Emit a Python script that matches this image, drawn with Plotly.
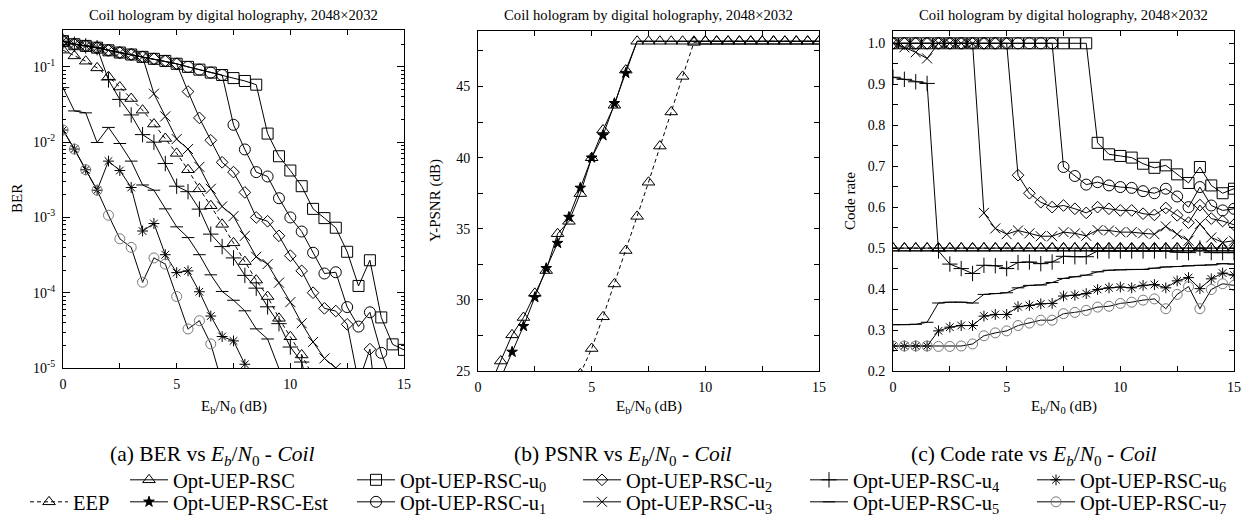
import plotly.graph_objects as go

W, H = 1249, 517
FONT = "'Liberation Serif', 'Times New Roman', Times, serif"

ebn0 = [0, 0.5, 1, 1.5, 2, 2.5, 3, 3.5, 4, 4.5, 5, 5.5, 6, 6.5, 7, 7.5, 8, 8.5, 9, 9.5,
        10, 10.5, 11, 11.5, 12, 12.5, 13, 13.5, 14, 14.5, 15]
N = None

# ---------------- (a) BER ----------------
ber_eep = [0.167, 0.14, 0.119, 0.097, 0.074, 0.054, 0.038, 0.0266, 0.0174, 0.0112, 0.0071, 0.0043,
           0.0024, 0.00143, 0.00081, 0.00046, 0.000259, 0.000147, 0.000089, 0.0000457, 0.000026,
           0.0000149, 0.0000077, N, N, N, N, N, N, N, N]
ber_u0 = [0.22, 0.20, 0.19, 0.18, 0.166, 0.155, 0.146, 0.136, 0.128, 0.12, 0.11, 0.10, 0.092, 0.084,
          0.078, 0.071, 0.065, 0.058, 0.013, 0.0065, 0.0042, 0.0026, 0.0013, 0.00098, 0.00073,
          0.00035, 0.000123, 0.00027, 0.000047, 0.0000206, 0.0000174]
ber_u1 = [0.22, 0.20, 0.19, 0.18, 0.166, 0.155, 0.146, 0.136, 0.128, 0.12, 0.11, 0.10, 0.092, 0.084,
          0.078, 0.017, 0.008, 0.004, 0.0035, 0.0018, 0.001, 0.00065, 0.00034, 0.00018, 0.000187,
          0.0000645, 0.0000355, 0.000055, 0.0000159, 0.000006, N]
ber_u2 = [0.22, 0.20, 0.19, 0.18, 0.166, 0.155, 0.146, 0.136, 0.128, 0.12, 0.11, 0.047, 0.021, 0.0106,
          0.0054, 0.004, 0.00215, 0.001, 0.00089, 0.00057, 0.00031, 0.000195, 0.0001, 0.000062,
          0.000057, 0.000038, 0.0000065, 0.0000178, 0.000001, N, N]
ber_u3 = [0.22, 0.20, 0.19, 0.18, 0.166, 0.155, 0.146, 0.136, 0.044, 0.022, 0.011, 0.0081, 0.0047,
          0.0024, 0.0014, 0.00104, 0.00057, 0.0003, 0.00024, 0.000136, 0.000075, 0.0000393,
          0.0000222, 0.0000134, 0.00001, N, N, N, N, N, N]
ber_u4 = [0.22, 0.20, 0.19, 0.18, 0.067, 0.037, 0.023, 0.0126, 0.01, 0.0052, 0.0026, 0.0022, 0.00129,
          0.0006, 0.00041, 0.00029, 0.00017, 0.000115, 0.000065, 0.0000388, 0.000019, 0.000012,
          0.000003, N, N, N, N, N, N, N, N]
ber_u5 = [0.053, 0.026, 0.0245, 0.0099, 0.0157, 0.0096, 0.0056, 0.0027, 0.0023, 0.0013, 0.00075,
          0.00054, 0.00032, 0.000173, 0.000104, 0.0000794, 0.0000575, 0.0000331, 0.0000243,
          0.0000098, N, N, N, N, N, N, N, N, N, N, N]
ber_u6 = [0.0145, 0.0081, 0.0043, 0.0023, 0.0056, 0.0042, 0.0025, 0.00066, 0.00083, 0.00032,
          0.000185, 0.000195, 0.000103, 0.000049, 0.0000262, 0.0000229, 0.0000112, N, N, N, N, N,
          N, N, N, N, N, N, N, N, N]
ber_u7 = [0.0145, 0.0081, 0.0043, 0.0023, 0.00107, 0.00052, 0.0004, 0.000138, 0.00029, 0.00024,
          0.000089, 0.000033, 0.0000425, 0.0000209, 0.0000063, N, N, N, N, N, N, N, N, N, N, N,
          N, N, N, N, N]

# ---------------- (b) Y-PSNR ----------------
psnr_opt = [N, 23.9, 25.7, 27.54, 28.76, 30.46, 32.06, 34.65, 35.52, 37.47, 39.99, 41.94, 43.68,
            46.15, 48.18, 48.18, 48.18, 48.18, 48.18, 48.18, 48.18, 48.18, 48.18, 48.18, 48.18,
            48.18, 48.18, 48.18, 48.18, 48.18, 48.18]
psnr_est = [N, N, 24.5, 26.34, 28.15, 30.18, 32.22, 33.99, 35.82, 37.87, 39.99, 41.56, 43.82,
            45.94, 48.18, 48.18, 48.18, 48.18, 48.18, 48.18, 48.18, 48.18, 48.18, 48.18, 48.18,
            48.18, 48.18, 48.18, 48.18, 48.18, 48.18]
psnr_eep = [N, N, N, N, N, N, N, N, N, 24.8, 26.58, 28.81, 31.12, 33.47, 35.87, 38.27, 40.81,
            43.21, 45.71, 48.1, 48.18, 48.18, 48.18, 48.18, 48.18, 48.18, 48.18, 48.18, 48.18,
            48.18, 48.18]

# ---------------- (c) Code rate ----------------
rate_opt = [0.5] * 31
rate_eep = [0.5] * 31
rate_u0 = [1.0, 1.0, 1.0, 1.0, 1.0, 1.0, 1.0, 1.0, 1.0, 1.0, 1.0, 1.0, 1.0, 1.0, 1.0, 1.0, 1.0, 1.0,
           0.757, 0.729, 0.725, 0.721, 0.706, 0.696, 0.702, 0.68, 0.659, 0.698, 0.653, 0.634, 0.645]
rate_u1 = [1.0, 1.0, 1.0, 1.0, 1.0, 1.0, 1.0, 1.0, 1.0, 1.0, 1.0, 1.0, 1.0, 1.0, 1.0,
           0.698, 0.676, 0.655, 0.661, 0.653, 0.649, 0.647, 0.639, 0.634, 0.645, 0.626, 0.6,
           0.649, 0.604, 0.592, 0.596]
rate_u2 = [1.0, 1.0, 1.0, 1.0, 1.0, 1.0, 1.0, 1.0, 1.0, 1.0, 1.0,
           0.678, 0.634, 0.612, 0.6, 0.604, 0.596, 0.586, 0.6, 0.596, 0.592, 0.592, 0.584, 0.581,
           0.598, 0.58, 0.562, 0.605, 0.572, 0.566, 0.557]
rate_u3 = [1.0, 0.99, 0.978, 0.963, 1.0, 1.0, 1.0, 1.0,
           0.586, 0.548, 0.534, 0.543, 0.536, 0.529, 0.529, 0.539, 0.536, 0.530, 0.544, 0.543,
           0.539, 0.539, 0.536, 0.534, 0.553, 0.534, 0.518, 0.559, 0.526, 0.514, 0.518]
rate_u4 = [0.917, 0.912, 0.906, 0.902,
           0.493, 0.461, 0.45, 0.438, 0.458, 0.457, 0.45, 0.465, 0.466, 0.462, 0.466, 0.48, 0.479,
           0.479, 0.493, 0.493, 0.493, 0.493, 0.493, 0.493, 0.493, 0.49, 0.489, 0.5, 0.489, 0.489,
           0.489]
rate_u5 = [0.313, 0.313, 0.314, 0.319, 0.366, 0.368, 0.368, 0.366, 0.387, 0.389, 0.391, 0.403,
           0.409, 0.41, 0.416, 0.426, 0.43, 0.434, 0.442, 0.446, 0.447, 0.448, 0.448, 0.451,
           0.454, 0.455, 0.457, 0.458, 0.459, 0.462, 0.461]
rate_u6 = [0.261, 0.261, 0.261, 0.261,
           0.298, 0.307, 0.311, 0.311, 0.334, 0.338, 0.338, 0.357, 0.36, 0.364, 0.365, 0.383,
           0.385, 0.389, 0.399, 0.403, 0.405, 0.403, 0.409, 0.411, 0.403, 0.42, 0.428, 0.401,
           0.425, 0.439, 0.434]
rate_u7 = [0.261, 0.261, 0.261, 0.261,
           0.26, 0.26, 0.261, 0.266, 0.286, 0.293, 0.298, 0.311, 0.317, 0.324, 0.324, 0.34, 0.343,
           0.348, 0.356, 0.358, 0.365, 0.368, 0.373, 0.376, 0.352, 0.387, 0.406, 0.352, 0.399,
           0.413, 0.409]

titles = ["Coil hologram by digital holography, 2048\u00d72032"] * 3
captions = ["(a) BER vs <i>E<sub>b</sub></i>/<i>N</i><sub>0</sub> - <i>Coil</i>",
            "(b) PSNR vs <i>E<sub>b</sub></i>/<i>N</i><sub>0</sub> - <i>Coil</i>",
            "(c) Code rate vs <i>E<sub>b</sub></i>/<i>N</i><sub>0</sub> - <i>Coil</i>"]
y_titles = ["BER", "Y-PSNR (dB)", "Code rate"]
x_title = "E<sub>b</sub>/N<sub>0</sub> (dB)"
ber_tick_vals = [1e-5, 1e-4, 1e-3, 1e-2, 1e-1]
ber_tick_text = ["10<sup>-5</sup>", "10<sup>-4</sup>", "10<sup>-3</sup>", "10<sup>-2</sup>", "10<sup>-1</sup>"]

# ---------------- styles ----------------
GRAY = "#7a7a7a"
STY = {
    "EEP": dict(symbol="triangle-up-open", size=11, color="black", dash="4px,3px"),
    "Opt-UEP-RSC": dict(symbol="triangle-up-open", size=11, color="black", dash="solid"),
    "Opt-UEP-RSC-Est": dict(symbol="star", size=8, color="black", dash="solid"),
    "u0": dict(symbol="square-open", size=11, color="black", dash="solid"),
    "u1": dict(symbol="circle-open", size=11, color="black", dash="solid"),
    "u2": dict(symbol="diamond-open", size=9, color="black", dash="solid"),
    "u3": dict(symbol="x-thin-open", size=10, color="black", dash="solid"),
    "u4": dict(symbol="cross-thin-open", size=11, color="black", dash="solid"),
    "u5": dict(symbol="line-ew-open", size=9, color="black", dash="solid"),
    "u6": dict(symbol="asterisk-open", size=9, color="black", dash="solid"),
    "u7": dict(symbol="circle-open-dot", size=10, color=GRAY, dash="solid"),
}
NAMES = {
    "EEP": "EEP", "Opt-UEP-RSC": "Opt-UEP-RSC", "Opt-UEP-RSC-Est": "Opt-UEP-RSC-Est",
    "u0": "Opt-UEP-RSC-u<sub>0</sub>", "u1": "Opt-UEP-RSC-u<sub>1</sub>",
    "u2": "Opt-UEP-RSC-u<sub>2</sub>", "u3": "Opt-UEP-RSC-u<sub>3</sub>",
    "u4": "Opt-UEP-RSC-u<sub>4</sub>", "u5": "Opt-UEP-RSC-u<sub>5</sub>",
    "u6": "Opt-UEP-RSC-u<sub>6</sub>", "u7": "Opt-UEP-RSC-u<sub>7</sub>",
}
# legend placement: (symbol start x px, row center y px)
LEG_POS = {
    "EEP": (27, 503), "Opt-UEP-RSC": (127, 481), "Opt-UEP-RSC-Est": (127, 503),
    "u0": (354, 481), "u1": (354, 503), "u2": (580, 481), "u3": (580, 503),
    "u4": (807, 481), "u5": (807, 503), "u6": (1034, 481), "u7": (1034, 503),
}
LEG_KEYS = list(LEG_POS.keys())
LEG_ID = {k: ("legend" if i == 0 else f"legend{i+1}") for i, k in enumerate(LEG_KEYS)}

fig = go.Figure()
shown = set()


def add(key, y, ax, colors=None):
    s = STY[key]
    show = key not in shown
    shown.add(key)
    xa = "x" if ax == 1 else f"x{ax}"
    ya = "y" if ax == 1 else f"y{ax}"
    mc = colors if colors is not None else s["color"]
    fig.add_trace(go.Scatter(
        x=ebn0, y=y, xaxis=xa, yaxis=ya, mode="lines+markers", name=NAMES[key],
        line=dict(color="black", width=1, dash=s["dash"]),
        marker=dict(symbol=s["symbol"], size=s["size"], color=mc, line=dict(color=mc, width=1)),
        connectgaps=False, showlegend=show, legend=LEG_ID[key]))


# (a)
for k, v in [("u0", ber_u0), ("u1", ber_u1), ("u2", ber_u2), ("u3", ber_u3), ("u4", ber_u4),
             ("u5", ber_u5), ("u6", ber_u6), ("u7", ber_u7), ("EEP", ber_eep)]:
    add(k, v, 1)
# (b)  stars hidden on the plateau where they sit under the triangles
est_colors = ["black" if (v is None or v < 48) else "rgba(0,0,0,0)" for v in psnr_est]
add("EEP", psnr_eep, 2)
add("Opt-UEP-RSC-Est", psnr_est, 2, colors=est_colors)
add("Opt-UEP-RSC", psnr_opt, 2)
# (c)
for k, v in [("EEP", rate_eep), ("Opt-UEP-RSC", rate_opt), ("u0", rate_u0), ("u1", rate_u1),
             ("u2", rate_u2), ("u3", rate_u3), ("u4", rate_u4), ("u5", rate_u5),
             ("u6", rate_u6), ("u7", rate_u7)]:
    add(k, v, 3)

# ---------------- layout ----------------
def px_x(p):
    return p / W


def px_y(p):
    return 1 - p / H


plots = [(63, 404, 30, 368), (478, 819, 31, 371), (893, 1234, 31, 371)]
TICKF = dict(family=FONT, size=14, color="black")
TITF = dict(family=FONT, size=15, color="black")
base_axis = dict(showline=True, linecolor="black", linewidth=1, mirror="ticks", ticks="inside",
                 ticklen=5, tickwidth=1, tickcolor="black", showgrid=False, zeroline=False,
                 tickfont=TICKF, automargin=False)
xt_vals = [0, 2.5, 5, 7.5, 10, 12.5, 15]
xt_text = ["0", "", "5", "", "10", "", "15"]

layout = dict(width=W, height=H, margin=dict(l=0, r=0, t=0, b=0, autoexpand=False),
              paper_bgcolor="white", plot_bgcolor="white",
              font=dict(family=FONT, color="black"))
for i, (l, r, t, b) in enumerate(plots):
    xn = "xaxis" if i == 0 else f"xaxis{i+1}"
    yn = "yaxis" if i == 0 else f"yaxis{i+1}"
    anchor_x = "y" if i == 0 else f"y{i+1}"
    anchor_y = "x" if i == 0 else f"x{i+1}"
    layout[xn] = dict(base_axis, domain=[px_x(l), px_x(r)], anchor=anchor_x, range=[0, 15],
                      tickvals=xt_vals, ticktext=xt_text, ticklabelstandoff=3)
    layout[yn] = dict(base_axis, domain=[px_y(b), px_y(t)], anchor=anchor_y, ticklabelstandoff=4)

minor_vals = [m * 10 ** e for e in range(-5, 0) for m in range(2, 10)]
layout["yaxis"].update(type="log", range=[-5, -0.51], tickvals=ber_tick_vals, ticktext=ber_tick_text,
                       ticklen=7,
                       minor=dict(tickvals=minor_vals, ticks="inside", ticklen=3, tickcolor="black"))
layout["yaxis2"].update(range=[25, 48.9], tickvals=[25, 27.5, 30, 32.5, 35, 37.5, 40, 42.5, 45, 47.5],
                        ticktext=["25", "", "30", "", "35", "", "40", "", "45", ""])
rate_ticks = [0.2, 0.25, 0.3, 0.35, 0.4, 0.45, 0.5, 0.55, 0.6, 0.65, 0.7, 0.75, 0.8, 0.85, 0.9, 0.95, 1.0]
rate_text = ["0.2", "", "0.3", "", "0.4", "", "0.5", "", "0.6", "", "0.7", "", "0.8", "", "0.9", "", "1.0"]
layout["yaxis3"].update(range=[0.2, 1.03], tickvals=rate_ticks, ticktext=rate_text)

ann = []
ytitle_x = [17, 435, 850]
for i, (l, r, t, b) in enumerate(plots):
    ann.append(dict(text=titles[i], x=px_x((l + r) / 2), y=px_y(15), xref="paper", yref="paper",
                    xanchor="center", yanchor="middle", showarrow=False,
                    font=dict(family=FONT, size=14.7, color="black")))
    ann.append(dict(text=x_title, x=px_x((l + r) / 2), y=px_y(407), xref="paper", yref="paper",
                    xanchor="center", yanchor="middle", showarrow=False, font=TITF))
    ann.append(dict(text=y_titles[i], x=px_x(ytitle_x[i]), y=px_y((t + b) / 2), xref="paper",
                    yref="paper", xanchor="center", yanchor="middle", showarrow=False,
                    textangle=-90, font=TITF))
cap_centers = [211.5, 623, 1034]
for i, c in enumerate(cap_centers):
    ann.append(dict(text=captions[i], x=px_x(c), y=px_y(455), xref="paper", yref="paper",
                    xanchor="center", yanchor="middle", showarrow=False,
                    font=dict(family=FONT, size=21.5, color="black")))
layout["annotations"] = ann

for k in LEG_KEYS:
    sx, sy = LEG_POS[k]
    layout[LEG_ID[k]] = dict(x=px_x(sx - 2), y=px_y(sy - 1), xanchor="left", yanchor="middle",
                             xref="paper", yref="paper", bgcolor="rgba(0,0,0,0)", borderwidth=0,
                             font=dict(family=FONT, size=20.5, color="black"),
                             orientation="v", itemwidth=38, tracegroupgap=0)

fig.update_layout(**layout)
fig.write_html("out.html", config={"displayModeBar": False},
               post_script="document.body.style.margin='0';document.body.style.padding='0';")
